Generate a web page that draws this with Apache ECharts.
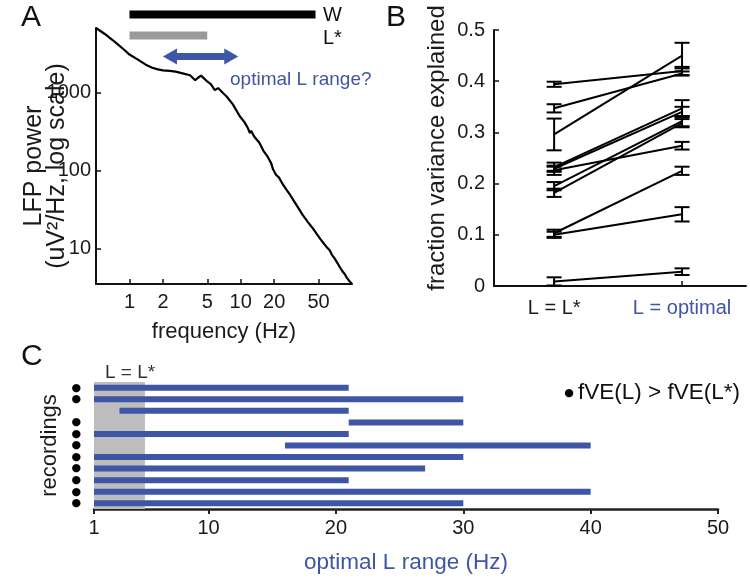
<!DOCTYPE html>
<html><head><meta charset="utf-8">
<script src="https://cdn.jsdelivr.net/npm/echarts@6/dist/echarts.min.js"></script>
<style>html,body{margin:0;padding:0;background:#fff}#c{width:750px;height:578px}</style>
</head><body><div id="c"></div>
<script>
// ---------- Panel A: LFP power spectrum ----------
const freqHz = [0.5,0.6,0.7,0.8,0.9,1.0,1.2,1.4,1.6,1.8,2.0,2.3,2.6,3.0,3.5,3.9,4.1,4.4,4.7,5.0,5.4,5.85,6.25,7.0,7.5,8.5,9.8,10.8,11.5,12.1,12.4,13.2,14.7,16,17.5,18.8,19.5,20.8,22,24,26,28,30,33,36,40,44,48,52,56,60,63,66,70,74,78,82,86,90,95,100];
const powerUV = [6800,5700,4800,4100,3550,3100,2650,2300,2100,2000,1940,1910,1870,1780,1680,1450,1550,1660,1520,1400,1280,1080,1150,980,890,710,500,420,360,305,325,275,228,180,150,124,104,88,82,66,56,48,41,33,27,22,18.5,15.5,13.2,11.5,10.2,9.5,8.3,7.4,6.5,5.7,5.1,4.7,4.2,3.8,3.5];
const freqTicks = [1,2,5,10,20,50];
const powerTicks = [10,100,1000];
const wRange = [1, 47];
const lStarRange = [1, 5];
const optArrowRange = [2, 9.5];

// ---------- Panel B: fraction variance explained ----------
const bCategories = ['L = L*', 'L = optimal'];
const fveLStar    = [0.394,0.347,0.296,0.232,0.229,0.226,0.195,0.182,0.103,0.100,0.009];
const fveLStarErr = [0.005,0.008,0.031,0.009,0.004,0.009,0.008,0.008,0.007,0.006,0.008];
const fveOpt      = [0.420,0.415,0.450,0.347,0.340,0.274,0.322,0.318,0.225,0.140,0.028];
const fveOptErr   = [0.008,0.004,0.025,0.016,0.010,0.0075,0.010,0.008,0.008,0.014,0.0065];
const fveTicks = [0,0.1,0.2,0.3,0.4,0.5];

// ---------- Panel C: optimal L range per recording ----------
const recordings = ['r1','r2','r3','r4','r5','r6','r7','r8','r9','r10','r11'];
const optStart = [1,1,3,21,1,16,1,1,1,1,1];
const optEnd   = [21,30,21,30,21,40,30,27,21,40,30];
const improved = [1,1,0,1,1,1,1,1,1,1,1];
const cTicks = [1,10,20,30,40,50];
const lStarBand = [1,5];

const FONT = 'Liberation Sans, Arial, sans-serif';
const BLUE = '#3f55a5';
const lg = Math.log10;

const chart = echarts.init(document.getElementById('c'), null, {renderer:'canvas'});

const axisLineBlack = {show:true, onZero:false, lineStyle:{color:'#111', width:2}};

const series = [];
// A curve
series.push({type:'line', xAxisIndex:0, yAxisIndex:0, showSymbol:false, symbol:'none',
  data: freqHz.map((f,i)=>[lg(f), lg(powerUV[i])]),
  lineStyle:{color:'#000', width:2.2}, z:5});
// A annotation bars
series.push({type:'line', xAxisIndex:1, yAxisIndex:1, symbol:'none',
  data: wRange.map(v=>[lg(v), 0]), lineStyle:{color:'#000', width:8, cap:'butt'}});
series.push({type:'line', xAxisIndex:1, yAxisIndex:1, symbol:'none',
  data: lStarRange.map(v=>[lg(v), 1]), lineStyle:{color:'#9a9a9a', width:8, cap:'butt'}});
// A double arrow
series.push({type:'custom', xAxisIndex:1, yAxisIndex:1,
  data: [[lg(optArrowRange[0]), lg(optArrowRange[1]), 2]],
  encode:{x:[0,1], y:2},
  renderItem: function(params, api){
    const p1 = api.coord([api.value(0), 2]);
    const p2 = api.coord([api.value(1), 2]);
    const y = p1[1], hl = 14, hh = 8, st = 3.5;
    const x1 = p1[0], x2 = p2[0];
    return {type:'polygon', shape:{points:[
      [x1,y],[x1+hl,y-hh],[x1+hl,y-st],[x2-hl,y-st],[x2-hl,y-hh],[x2,y],
      [x2-hl,y+hh],[x2-hl,y+st],[x1+hl,y+st],[x1+hl,y+hh]]},
      style:{fill:BLUE}};
  }});
// B connecting lines
fveLStar.forEach((v,i)=>{
  series.push({type:'line', xAxisIndex:2, yAxisIndex:2, symbol:'none',
    data:[[1, v],[2, fveOpt[i]]], lineStyle:{color:'#000', width:2}, z:3});
});
// B error bars
const errData = [];
fveLStar.forEach((v,i)=>{ errData.push([1, v, fveLStarErr[i]]); errData.push([2, fveOpt[i], fveOptErr[i]]); });
series.push({type:'custom', xAxisIndex:2, yAxisIndex:2, data: errData, z:4,
  encode:{x:0, y:1},
  renderItem: function(params, api){
    const x = api.value(0), m = api.value(1), e = api.value(2);
    const top = api.coord([x, m+e]), bot = api.coord([x, m-e]);
    const w = 7.5;
    const st = {stroke:'#000', lineWidth:2};
    return {type:'group', children:[
      {type:'line', shape:{x1:top[0], y1:top[1], x2:bot[0], y2:bot[1]}, style:st},
      {type:'line', shape:{x1:top[0]-w, y1:top[1], x2:top[0]+w, y2:top[1]}, style:st},
      {type:'line', shape:{x1:bot[0]-w, y1:bot[1], x2:bot[0]+w, y2:bot[1]}, style:st}
    ]};
  }});
// C gray band
series.push({type:'custom', xAxisIndex:3, yAxisIndex:3, data:[[lStarBand[0], lStarBand[1], 0]], z:1,
  encode:{x:[0,1], y:2},
  renderItem: function(params, api){
    const cs = params.coordSys;
    const a = api.coord([api.value(0), 0]), b = api.coord([api.value(1), 0]);
    return {type:'rect', shape:{x:a[0], y:cs.y, width:b[0]-a[0], height:cs.height}, style:{fill:'#bdbdbd'}};
  }});
// C bars
series.push({type:'custom', xAxisIndex:3, yAxisIndex:3, z:2,
  data: optStart.map((s,i)=>[s, optEnd[i], i]),
  encode:{x:[0,1], y:2},
  renderItem: function(params, api){
    const a = api.coord([api.value(0), api.value(2)]), b = api.coord([api.value(1), api.value(2)]);
    const h = 6;
    return {type:'rect', shape:{x:a[0], y:a[1]-h/2, width:b[0]-a[0], height:h}, style:{fill:BLUE}};
  }});

const txt = (text, x, y, size, color, align) => ({type:'text', x:x, y:y, silent:true,
  style:{text:text, fontSize:size, fontFamily:FONT, fill:color||'#000', align:align||'left', verticalAlign:'middle'}});

const option = {
  animation:false,
  backgroundColor:'#fff',
  textStyle:{fontFamily:FONT},
  grid:[
    {left:96, top:28, width:256, height:256},
    {left:96, top:4, width:256, height:63},
    {left:494, top:30, width:252, height:256},
    {left:94, top:382, width:624, height:127}
  ],
  xAxis:[
    {type:'value', gridIndex:0, min:lg(0.5), max:2,
      axisLine:axisLineBlack, splitLine:{show:false},
      axisTick:{show:true, inside:true, length:5, customValues:freqTicks.map(lg), lineStyle:{color:'#111', width:1.5}},
      axisLabel:{customValues:freqTicks.map(lg), formatter:v=>String(Math.round(Math.pow(10,v))), fontSize:20, color:'#1a1a1a', margin:8},
      name:'frequency (Hz)', nameLocation:'middle', nameGap:37, nameTextStyle:{fontSize:22, color:'#1a1a1a'}},
    {type:'value', gridIndex:1, min:lg(0.5), max:2, show:false},
    {type:'value', gridIndex:2, min:0.53, max:2.5,
      axisLine:axisLineBlack, splitLine:{show:false},
      axisTick:{show:true, inside:true, length:5, customValues:[1,2], lineStyle:{color:'#111', width:1.5}},
      axisLabel:{customValues:[1,2], margin:12, fontSize:20,
        formatter:v=> v<1.5 ? '{k|'+bCategories[0]+'}' : '{b|'+bCategories[1]+'}',
        rich:{k:{fontSize:20, color:'#1a1a1a', fontFamily:FONT}, b:{fontSize:20, color:BLUE, fontFamily:FONT}}}},
    {type:'value', gridIndex:3, min:1, max:50,
      axisLine:{show:true, onZero:false, lineStyle:{color:'#222', width:2.5}}, splitLine:{show:false},
      axisTick:{show:true, inside:false, length:5, customValues:cTicks, lineStyle:{color:'#222', width:2}},
      axisLabel:{customValues:cTicks, fontSize:20, color:'#1a1a1a', margin:9},
      name:'optimal L range (Hz)', nameLocation:'middle', nameGap:42, nameTextStyle:{fontSize:22.5, color:BLUE}}
  ],
  yAxis:[
    {type:'value', gridIndex:0, min:lg(3.5), max:lg(6800),
      axisLine:axisLineBlack, splitLine:{show:false},
      axisTick:{show:true, inside:true, length:5, customValues:powerTicks.map(lg), lineStyle:{color:'#111', width:1.5}},
      axisLabel:{customValues:powerTicks.map(lg), formatter:v=>String(Math.round(Math.pow(10,v))), fontSize:20, color:'#1a1a1a', margin:5},
      name:'LFP power\n(uV\u00b2/Hz, log scale)', nameLocation:'middle', nameRotate:90, nameGap:27,
      nameMoveOverlap:false,
      nameTextStyle:{fontSize:25, lineHeight:23, color:'#1a1a1a', align:'center', padding:[0,20,0,0]}},
    {type:'category', gridIndex:1, data:['W','L*','opt'], inverse:true, show:false},
    {type:'value', gridIndex:2, min:0, max:0.5, interval:0.1,
      axisLine:axisLineBlack, splitLine:{show:false},
      axisTick:{show:true, inside:true, length:5, lineStyle:{color:'#111', width:1.5}},
      axisLabel:{fontSize:20, color:'#1a1a1a', margin:9},
      name:'fraction variance explained', nameLocation:'middle', nameRotate:90, nameGap:45,
      nameTextStyle:{fontSize:24, color:'#1a1a1a', padding:[0,0,0,20]}},
    {type:'category', gridIndex:3, data:recordings, inverse:true,
      axisLine:{show:false}, axisTick:{show:false}, splitLine:{show:false},
      axisLabel:{interval:0, margin:13, fontSize:11, fontFamily:'DejaVu Sans', color:'#000',
        formatter:(v,idx)=> improved[idx] ? '\u25cf' : ''},
      name:'recordings', nameLocation:'middle', nameRotate:90, nameGap:33,
      nameTextStyle:{fontSize:22, color:'#1a1a1a'}}
  ],
  graphic:[
    txt('A', 21, 18, 30, '#111'),
    txt('B', 386, 18, 30, '#111'),
    txt('C', 21, 357, 30, '#111'),
    txt('W', 323, 15, 20, '#111'),
    txt('L*', 323, 38, 20, '#111'),
    txt('optimal L range?', 230, 80, 19, BLUE),
    txt('L = L*', 130, 373, 19, '#333', 'center'),
    {type:'text', x:569, y:393, silent:true, style:{text:'\u25cf', fontSize:11, fontFamily:'DejaVu Sans', fill:'#000', align:'center', verticalAlign:'middle'}},
    txt('fVE(L) > fVE(L*)', 578, 393, 22.5, '#111')
  ],
  series: series
};
chart.setOption(option);
</script></body></html>
